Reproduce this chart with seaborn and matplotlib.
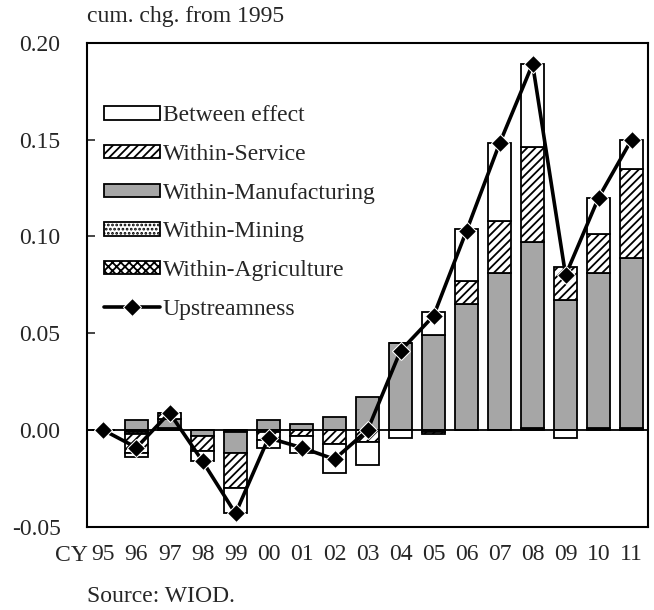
import numpy as np
import pandas as pd
import seaborn as sns
import matplotlib.pyplot as plt

years = ['95', '96', '97', '98', '99', '00', '01', '02', '03',
         '04', '05', '06', '07', '08', '09', '10', '11']
agriculture = [0, -0.001, 0.001, 0, -0.001, 0, 0, 0, 0,
               0, 0, 0, 0, 0.001, 0, 0.001, 0.001]
mining = [0, -0.001, 0, 0, 0, -0.001, 0, 0, 0,
          0, -0.001, 0, 0, 0, 0, 0, 0]
manufacturing = [0, 0.005, 0.005, -0.003, -0.011, 0.005, 0.003, 0.007, 0.017,
                 0.045, 0.049, 0.065, 0.081, 0.096, 0.067, 0.080, 0.088]
service = [0, -0.010, 0.003, -0.008, -0.018, -0.004, -0.003, -0.007, -0.006,
           0, -0.001, 0.012, 0.027, 0.049, 0.017, 0.020, 0.046]
between = [0, -0.002, 0.0, -0.005, -0.013, -0.004, -0.009, -0.015, -0.012,
           -0.004, 0.012, 0.027, 0.040, 0.043, -0.004, 0.019, 0.015]
upstreamness = [0, -0.009, 0.009, -0.016, -0.043, -0.004, -0.009, -0.015, 0.0,
                0.041, 0.059, 0.103, 0.148, 0.189, 0.080, 0.120, 0.150]

sns.set_style('white')
plt.rcParams['font.family'] = ['Liberation Serif', 'DejaVu Serif']
plt.rcParams['hatch.linewidth'] = 1.3
FS = 17

fig = plt.figure(figsize=(6.54, 6.10), dpi=100)
ax = fig.add_axes([0.133, 0.136, 0.858, 0.794])

x = np.arange(len(years))
series = [
    ('Within-Agriculture', agriculture, 'white', 'xxxx'),
    ('Within-Mining', mining, 'white', '....'),
    ('Within-Manufacturing', manufacturing, '#a6a6a6', None),
    ('Within-Service', service, 'white', '////'),
    ('Between effect', between, 'white', None),
]
pos = np.zeros(len(years))
neg = np.zeros(len(years))
handles = {}
for name, vals, color, hatch in series:
    v = np.array(vals, dtype=float)
    bottom = np.where(v >= 0, pos, neg)
    bars = ax.bar(x, v, bottom=bottom, width=0.68, color=color, hatch=hatch,
                  edgecolor='black', linewidth=1.3, label=name)
    handles[name] = bars
    pos = pos + np.where(v >= 0, v, 0)
    neg = neg + np.where(v < 0, v, 0)

df = pd.DataFrame({'x': x, 'Upstreamness': upstreamness})
sns.lineplot(data=df, x='x', y='Upstreamness', ax=ax, color='black',
             linewidth=2.6, marker='D', markersize=9, label='Upstreamness')
line = ax.get_lines()[-1]

ax.axhline(0, color='black', linewidth=1.3, zorder=1)

ax.set_xlim(-0.5, len(years) - 0.5)
ax.set_ylim(-0.05, 0.20)
ax.set_yticks([-0.05, 0, 0.05, 0.10, 0.15, 0.20])
ax.set_yticklabels(['-0.05', '0.00', '0.05', '0.10', '0.15', '0.20'], fontsize=FS)
ax.set_xticks(x)
ax.set_xticklabels(years, fontsize=FS)
ax.tick_params(axis='y', direction='in', length=6, width=1.2, left=True, pad=19)
ax.tick_params(axis='x', length=0, pad=12)
ax.set_xlabel('')
ax.set_ylabel('')
for s in ax.spines.values():
    s.set_linewidth(1.5)
    s.set_color('black')

fig.text(0.135, 0.09, 'CY', fontsize=FS, ha='right', va='center')
fig.text(0.133, 0.955, 'cum. chg. from 1995', fontsize=FS, ha='left', va='bottom')
fig.text(0.133, 0.022, 'Source: WIOD.', fontsize=FS, ha='left', va='center')

order = ['Between effect', 'Within-Service', 'Within-Manufacturing',
         'Within-Mining', 'Within-Agriculture']
leg = ax.legend([handles[n] for n in order] + [line], order + ['Upstreamness'],
                loc='upper left', bbox_to_anchor=(0.0, 0.905), frameon=False,
                fontsize=FS, handlelength=2.4, handleheight=0.5,
                handletextpad=0.1, labelspacing=0.75, borderaxespad=0.3)

fig.savefig('out.png', dpi=100)
